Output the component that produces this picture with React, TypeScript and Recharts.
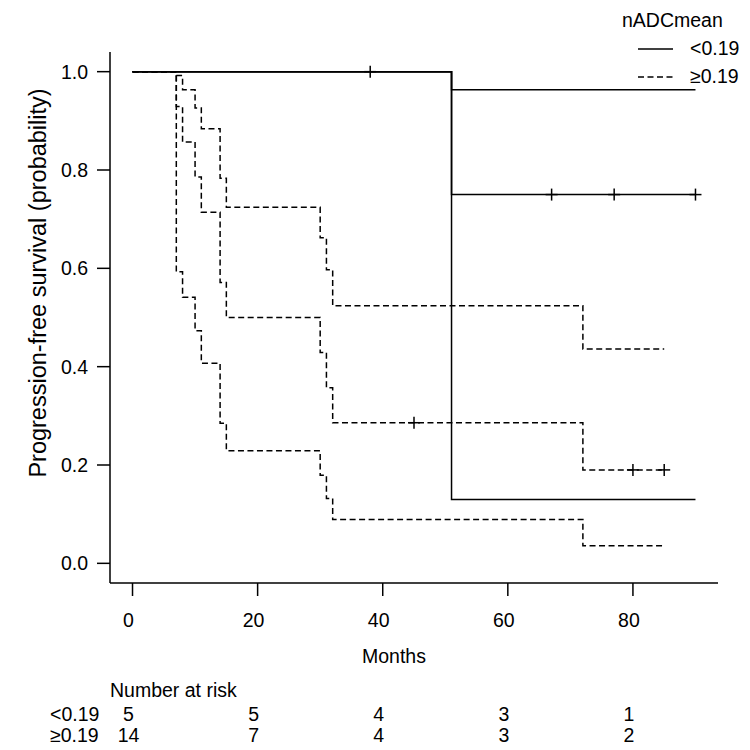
import { ComposedChart, Line, XAxis, YAxis } from "recharts"

const FONT = "'Liberation Sans', Arial, Helvetica, sans-serif"
const FS = 19.5

// nADCmean < 0.19: Kaplan-Meier estimate with log-log 95% band
const lowTimes = [0, 51, 90]
const lowSurv = [1, 0.75, 0.75]
const lowUpper = [1, 0.963, 0.963]
const lowLower = [1, 0.13, 0.13]
const lowCensored = [38, 67, 77, 90]

// nADCmean >= 0.19
const highTimes = [0, 7, 8, 10, 11, 14, 15, 30, 31, 32, 72, 85]
const highSurv = [1, 0.929, 0.857, 0.786, 0.714, 0.571, 0.5, 0.429, 0.357, 0.286, 0.19, 0.19]
const highUpper = [1, 0.992, 0.963, 0.926, 0.884, 0.783, 0.724, 0.662, 0.597, 0.524, 0.436, 0.436]
const highLower = [1, 0.593, 0.541, 0.473, 0.407, 0.285, 0.229, 0.179, 0.132, 0.089, 0.036, 0.036]
const highCensored = [45, 80, 85]

const xTicks = [0, 20, 40, 60, 80]
const yTicks = [0, 0.2, 0.4, 0.6, 0.8, 1]
const riskLabels = ["<0.19", "\u22650.19"]
const riskLow = [5, 5, 4, 3, 1]
const riskHigh = [14, 7, 4, 3, 2]

const steps = (times: number[], vals: number[]) => times.map((t, i) => ({ t, s: vals[i] }))

const survAt = (times: number[], vals: number[], t: number) => {
  let s = vals[0]
  times.forEach((tt, i) => {
    if (tt <= t) s = vals[i]
  })
  return s
}

const censorPoints = (times: number[], vals: number[], cens: number[]) =>
  cens.map((t) => ({ t, s: survAt(times, vals, t) }))

const DASH = "6 3.5"

const curves = [
  { key: "lowUpper", data: steps(lowTimes, lowUpper), dash: undefined },
  { key: "lowLower", data: steps(lowTimes, lowLower), dash: undefined },
  { key: "lowSurv", data: steps(lowTimes, lowSurv), dash: undefined },
  { key: "highUpper", data: steps(highTimes, highUpper), dash: DASH },
  { key: "highLower", data: steps(highTimes, highLower), dash: DASH },
  { key: "highSurv", data: steps(highTimes, highSurv), dash: DASH },
]

const censorSets = [
  { key: "lowCens", data: censorPoints(lowTimes, lowSurv, lowCensored) },
  { key: "highCens", data: censorPoints(highTimes, highSurv, highCensored) },
]

// "+" mark for censored observations
const Plus = (props: any) => {
  const { cx, cy, index } = props
  if (cx == null || cy == null) return <g key={index} />
  return (
    <g key={index} stroke="#000" strokeWidth={1.5}>
      <line x1={cx - 6} x2={cx + 6} y1={cy} y2={cy} />
      <line x1={cx} x2={cx} y1={cy - 6} y2={cy + 6} />
    </g>
  )
}

// month label plus the number-at-risk columns under it
const MonthTick = (props: any) => {
  const { x, payload } = props
  const i = xTicks.indexOf(payload.value)
  return (
    <g fontFamily={FONT} fontSize={FS} fill="#000" textAnchor="middle">
      <text x={x - 4} y={627}>{payload.value}</text>
      <text x={x - 4} y={721}>{riskLow[i]}</text>
      <text x={x - 4} y={742}>{riskHigh[i]}</text>
    </g>
  )
}

export default function App() {
  return (
    <div style={{ position: "absolute", left: 0, top: 0, width: 750, height: 750, background: "#fff" }}>
      <ComposedChart width={750} height={750} margin={{ top: 52, right: 32, bottom: 137, left: 50 }}>
        <XAxis
          dataKey="t"
          type="number"
          domain={[-3.6, 93.6]}
          ticks={xTicks}
          interval={0}
          allowDataOverflow
          height={30}
          tickSize={13}
          tick={MonthTick}
          axisLine={{ stroke: "#000", strokeWidth: 1.5 }}
          tickLine={{ stroke: "#000", strokeWidth: 1.5 }}
        />
        <YAxis
          type="number"
          domain={[-0.04, 1.04]}
          ticks={yTicks}
          interval={0}
          allowDataOverflow
          width={60}
          tickSize={13}
          tickMargin={9}
          tickFormatter={(v: number) => v.toFixed(1)}
          tick={{ fill: "#000", fontSize: FS, fontFamily: FONT }}
          axisLine={{ stroke: "#000", strokeWidth: 1.5 }}
          tickLine={{ stroke: "#000", strokeWidth: 1.5 }}
        />
        {curves.map((c) => (
          <Line
            key={c.key}
            data={c.data}
            dataKey="s"
            type="stepAfter"
            stroke="#000"
            strokeWidth={1.5}
            strokeDasharray={c.dash}
            dot={false}
            activeDot={false}
            isAnimationActive={false}
          />
        ))}
        {censorSets.map((c) => (
          <Line
            key={c.key}
            data={c.data}
            dataKey="s"
            stroke="none"
            dot={Plus}
            activeDot={false}
            isAnimationActive={false}
          />
        ))}
      </ComposedChart>
      <svg
        width={750}
        height={750}
        style={{ position: "absolute", left: 0, top: 0, pointerEvents: "none" }}
        fontFamily={FONT}
        fontSize={FS}
      >
        <text x={46} y={283} transform="rotate(-90 46 283)" textAnchor="middle" fontSize={23.5}>
          Progression-free survival (probability)
        </text>
        <text x={394} y={663} textAnchor="middle">Months</text>
        <text x={110} y={697}>Number at risk</text>
        <text x={50} y={721}>{riskLabels[0]}</text>
        <text x={50} y={742}>{riskLabels[1]}</text>
        <text x={622} y={27}>nADCmean</text>
        <line x1={638} x2={673} y1={49} y2={49} stroke="#000" strokeWidth={1.5} />
        <text x={690} y={55}>{riskLabels[0]}</text>
        <line x1={638} x2={673} y1={77} y2={77} stroke="#000" strokeWidth={1.5} strokeDasharray={DASH} />
        <text x={690} y={83}>{riskLabels[1]}</text>
      </svg>
    </div>
  )
}
